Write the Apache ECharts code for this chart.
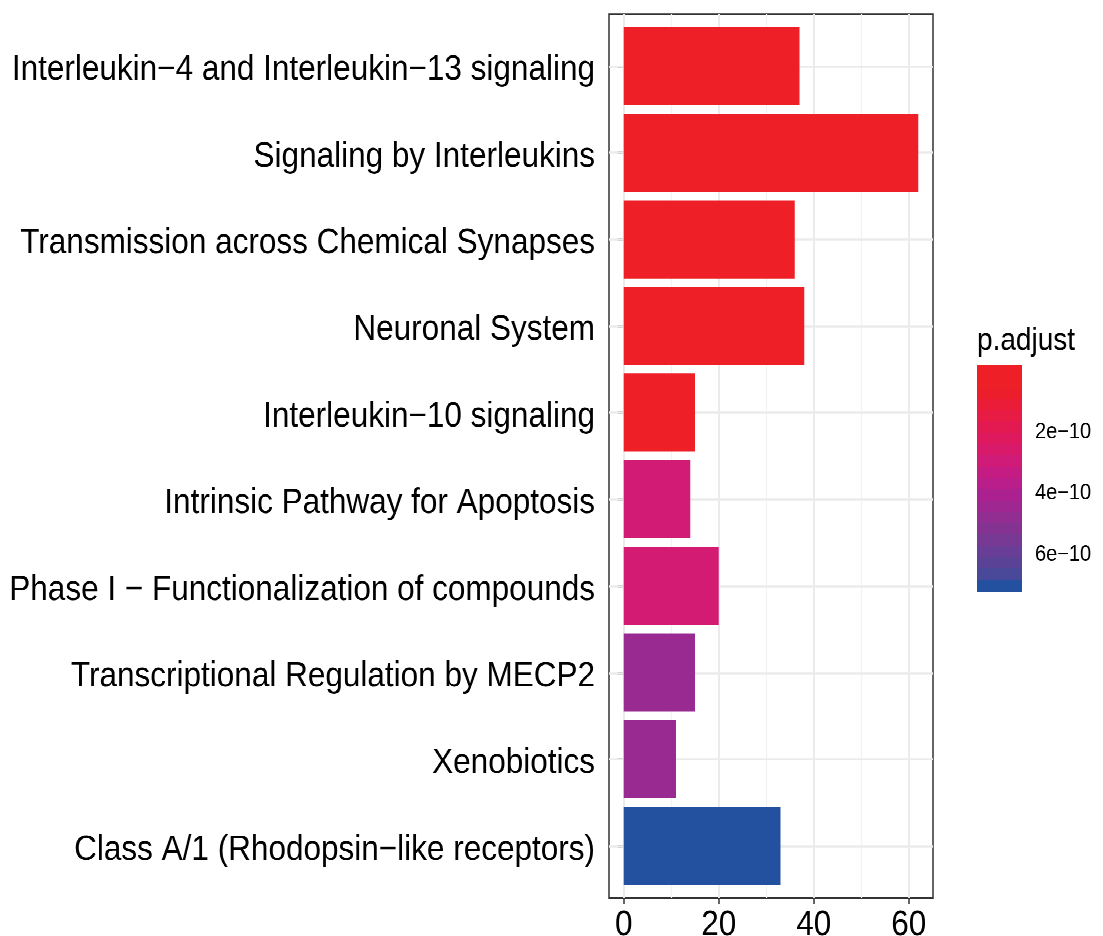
<!DOCTYPE html>
<html>
<head>
<meta charset="utf-8">
<script src="https://cdn.jsdelivr.net/npm/echarts@6/dist/echarts.min.js"></script>
<style>
  html { margin: 0; padding: 0; background: #ffffff; overflow: hidden; }
  body { margin: 0; padding: 0; background: #ffffff; width: 1103px; height: 936px; }
  #chart { width: 1103px; transform-origin: 0 0; }
</style>
</head>
<body>
<div id="chart"></div>
<script>
// Reactome enrichment: number of genes per pathway, filled by adjusted p-value
const pathways = [
  'Interleukin−4 and Interleukin−13 signaling',
  'Signaling by Interleukins',
  'Transmission across Chemical Synapses',
  'Neuronal System',
  'Interleukin−10 signaling',
  'Intrinsic Pathway for Apoptosis',
  'Phase I − Functionalization of compounds',
  'Transcriptional Regulation by MECP2',
  'Xenobiotics',
  'Class A/1 (Rhodopsin−like receptors)'
];
const geneCounts = [37, 62, 36, 38, 15, 14, 20, 15, 11, 33];
const pAdjust = [2.1e-14, 8.5e-14, 6.0e-13, 1.4e-12, 9.0e-12, 2.85e-10, 2.8e-10, 4.6e-10, 4.6e-10, 7.0e-10];
const countTicks = [0, 20, 40, 60];
const countMinorTicks = [10, 30, 50];
const pTicks = [2e-10, 4e-10, 6e-10];

// fill gradient, low p-value (red) to high p-value (blue)
const gradient = [
  '#EE1F26', '#EE1F27', '#ED1E2C', '#EA1C37', '#E71B44', '#E31A52', '#DF195E',
  '#D91A6B', '#D01B78', '#C51C83', '#B91E8B', '#AC2190', '#9F2791', '#922D92',
  '#843393', '#773994', '#693E96', '#5A4397', '#4A4898', '#2450A0'
];

const FONT = '"Liberation Sans", Arial, Helvetica, sans-serif';
const n = pathways.length;

// the figure is laid out on a shorter canvas and stretched vertically (tall, narrow glyphs)
const STRETCH = 1.13;
const PAGE_H = 936;
const H = PAGE_H / STRETCH;
const vy = y => y / STRETCH;   // page y -> canvas y

const el = document.getElementById('chart');
el.style.height = H + 'px';
el.style.transform = 'scaleY(' + STRETCH + ')';

// panel geometry (discrete axis padded by 0.6 of a band on each side)
const panel = { left: 609, top: vy(14), width: 324, height: vy(884) };
const band = panel.height / (n + 0.2);
const dataGrid = { left: panel.left, top: panel.top + 0.1 * band, width: panel.width, height: n * band };
const bar = { left: 977, top: vy(365), width: 45, height: vy(226) };

const countMax = Math.max(...geneCounts);
const xMin = -0.05 * countMax;
const xMax = countMax * 1.05;

const pMin = Math.min(...pAdjust);
const pMax = Math.max(...pAdjust);
const nbin = 20;
const binStep = (pMax - pMin) / (nbin - 1);
const bins = [];
for (let i = 0; i < nbin; i++) bins.push([pMin + i * binStep]);

const fmtP = v => {
  const e = Math.floor(Math.log10(Math.abs(v)) + 1e-9);
  const m = Math.round(v / Math.pow(10, e) * 100) / 100;
  return m + 'e\u2212' + Math.abs(e);
};

const chart = echarts.init(el, null, { renderer: 'canvas', devicePixelRatio: 2 });

const option = {
  animation: false,
  backgroundColor: '#ffffff',
  textStyle: { fontFamily: FONT },
  title: {
    text: 'p.adjust',
    left: 972, top: vy(341) - 19,
    textStyle: { fontSize: 28, fontWeight: 'normal', color: '#000', fontFamily: FONT }
  },
  grid: [
    { left: panel.left, top: panel.top, width: panel.width, height: panel.height,
      outerBoundsMode: 'none', containLabel: false,
      show: true, borderColor: '#333333', borderWidth: 1.5, backgroundColor: 'transparent', z: 0 },
    { left: dataGrid.left, top: dataGrid.top, width: dataGrid.width, height: dataGrid.height,
      outerBoundsMode: 'none', containLabel: false, show: false },
    { left: bar.left, top: bar.top, width: bar.width, height: bar.height,
      outerBoundsMode: 'none', containLabel: false, show: false }
  ],
  xAxis: [
    { gridIndex: 0, type: 'value', min: xMin, max: xMax,
      axisLine: { show: false },
      axisTick: { show: true, length: vy(6), lineStyle: { color: '#333', width: 1.5 }, customValues: countTicks },
      axisLabel: { show: true, fontSize: 31.5, color: '#000', margin: 8, fontFamily: FONT, customValues: countTicks },
      splitLine: { show: false } },
    { gridIndex: 1, type: 'value', min: xMin, max: xMax, show: false },
    { gridIndex: 2, type: 'value', min: 0, max: 1, show: false }
  ],
  yAxis: [
    { gridIndex: 0, type: 'value', min: 0, max: 1, show: false },
    { gridIndex: 1, type: 'category', data: pathways, inverse: true,
      axisLine: { show: false },
      axisTick: { show: true, alignWithLabel: true, length: 6, lineStyle: { color: '#333', width: 1.5 } },
      axisLabel: { fontSize: 31.5, color: '#000', margin: 14, fontFamily: FONT,
                   verticalAlign: 'top', lineHeight: 7 },
      splitLine: { show: false } },
    { gridIndex: 2, type: 'value', position: 'left', inverse: true,
      min: pMin - binStep / 2, max: pMax + binStep / 2,
      axisLine: { show: false }, splitLine: { show: false },
      axisTick: { show: true, inside: true, length: 9, lineStyle: { color: 'rgba(255,255,255,0.75)', width: 1 }, customValues: pTicks },
      axisLabel: { show: false } },
    { gridIndex: 2, type: 'value', position: 'right', inverse: true,
      min: pMin - binStep / 2, max: pMax + binStep / 2,
      axisLine: { show: false }, splitLine: { show: false },
      axisTick: { show: true, inside: true, length: 9, lineStyle: { color: 'rgba(255,255,255,0.75)', width: 1 }, customValues: pTicks },
      axisLabel: { show: true, fontSize: 20, color: '#000', margin: 13, fontFamily: FONT,
                   customValues: pTicks, formatter: v => fmtP(v) } }
  ],
  visualMap: {
    type: 'continuous', show: false, dimension: 0,
    seriesIndex: [3, 4],
    min: pMin, max: pMax,
    inRange: { color: gradient }
  },
  series: [
    // vertical grid lines
    { type: 'line', xAxisIndex: 0, yAxisIndex: 0, data: [], z: 1, silent: true,
      markLine: {
        silent: true, symbol: 'none', label: { show: false }, animation: false,
        data: countTicks.map(v => ({ xAxis: v, lineStyle: { color: '#EBEBEB', width: 2, type: 'solid' } }))
      } },
    { type: 'line', xAxisIndex: 0, yAxisIndex: 0, data: [], z: 1, silent: true,
      markLine: {
        silent: true, symbol: 'none', label: { show: false }, animation: false,
        data: countMinorTicks.map(v => ({ xAxis: v, lineStyle: { color: '#F2F2F2', width: 1.2, type: 'solid' } }))
      } },
    // horizontal grid lines at each pathway
    { type: 'line', xAxisIndex: 1, yAxisIndex: 1, data: [], z: 1, silent: true,
      markLine: {
        silent: true, symbol: 'none', label: { show: false }, animation: false,
        data: pathways.map(p => ({ yAxis: p, lineStyle: { color: '#EBEBEB', width: vy(2), type: 'solid' } }))
      } },
    // gene count bars, on a layer above the grid lines
    { type: 'bar', xAxisIndex: 1, yAxisIndex: 1, zlevel: 1, z: 3,
      barCategoryGap: '10%',
      encode: { x: 1, y: 2 },
      data: pathways.map((p, i) => [pAdjust[i], geneCounts[i], i])
    },
    // colour bar
    { type: 'custom', xAxisIndex: 2, yAxisIndex: 3, z: 3, silent: true,
      encode: { y: 0 },
      data: bins,
      renderItem: (params, api) => {
        const v = api.value(0);
        const a = api.coord([0, v - binStep / 2]);
        const b = api.coord([1, v + binStep / 2]);
        return {
          type: 'rect',
          shape: { x: a[0], y: Math.min(a[1], b[1]), width: b[0] - a[0], height: Math.abs(b[1] - a[1]) + 0.5 },
          style: { fill: api.visual('color') }
        };
      }
    }
  ]
};

chart.setOption(option);
</script>
</body>
</html>
